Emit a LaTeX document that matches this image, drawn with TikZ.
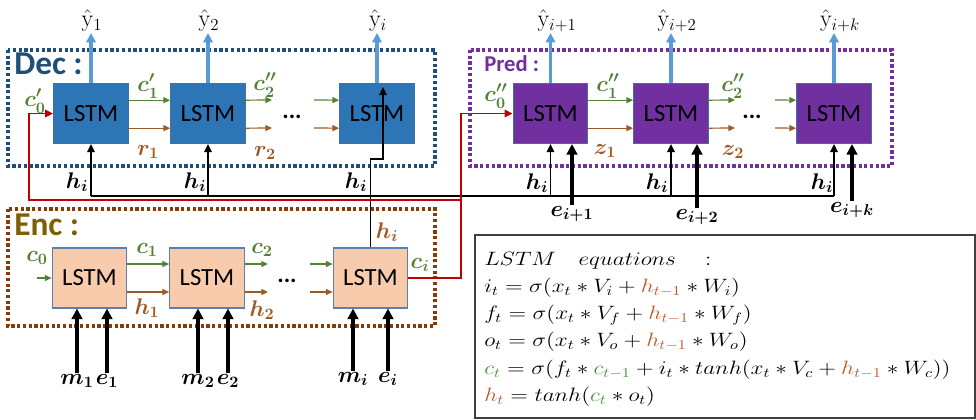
\RequirePackage{fix-cm}
\documentclass[tikz,border=0pt]{standalone}
\usepackage{amsmath}
\usepackage{amssymb}
\usepackage{fontspec}
\setsansfont{Carlito}
\usepackage{tikz}
\usetikzlibrary{positioning,calc,arrows.meta}

\definecolor{decfill}{HTML}{2E75B6}
\definecolor{decedge}{HTML}{41719C}
\definecolor{decline}{HTML}{1F4E79}
\definecolor{predfill}{HTML}{7030A0}
\definecolor{encfill}{HTML}{F8CBAD}
\definecolor{encedge}{HTML}{5B7FAF}
\definecolor{encline}{HTML}{843C0C}
\definecolor{enctext}{HTML}{7F6000}
\definecolor{lblgreen}{HTML}{548235}
\definecolor{lblbrown}{HTML}{9E5A26}
\definecolor{outblue}{HTML}{5B9BD5}
\definecolor{redline}{HTML}{C00000}
\definecolor{eqh}{HTML}{BE5A28}
\definecolor{eqc}{HTML}{46963C}

\begin{document}
\begin{tikzpicture}[x=0.75pt,y=-0.75pt,
    lstm/.style={draw,line width=0.8pt,minimum width=56pt,minimum height=45pt,inner sep=0pt,
        font=\sffamily\fontsize{18.5}{21}\selectfont},
    decbox/.style={lstm,fill=decfill,draw=decedge},
    predbox/.style={lstm,fill=predfill,draw=decedge},
    encbox/.style={lstm,fill=encfill,draw=encedge},
    dotbox/.style={line width=2.3pt,dash pattern=on 2.4pt off 1.9pt},
    grouplbl/.style={anchor=west,inner sep=0pt,font=\sffamily\bfseries\fontsize{25}{28}\selectfont},
    ylbl/.style={anchor=south,inner sep=1pt,font=\fontsize{18}{20}\selectfont},
    lbl/.style={inner sep=0.5pt,font=\fontsize{17}{19}\selectfont},
    glbl/.style={lbl,text=lblgreen},
    blbl/.style={lbl,text=lblbrown},
    dots/.style={inner sep=0pt,font=\sffamily\bfseries\fontsize{18}{20}\selectfont},
    outarrow/.style={draw=outblue,line width=2.3pt,-{Triangle[length=7pt,width=7pt]}},
    garrow/.style={draw=lblgreen,line width=0.9pt,-{Triangle[length=5pt,width=4.5pt]}},
    barrow/.style={draw=lblbrown,line width=0.9pt,-{Triangle[length=5pt,width=4.5pt]}},
    harrow/.style={draw=black,line width=1.3pt,-{Triangle[length=6pt,width=5.5pt]}},
    inarrow/.style={draw=black,line width=2.6pt,-{Triangle[length=8pt,width=8pt]}},
    redarrow/.style={draw=redline,line width=1.4pt,-{Triangle[length=6pt,width=5.5pt]}}]
\useasboundingbox (0,0) rectangle (976,419);

% Dec
\draw[dotbox,draw=decline] (8,50) rectangle (435,166);
\node[grouplbl,text=decline] (declbl) at (14,64) {Dec :};
\node[decbox] (d1) at (91,113.5) {LSTM};
\node[decbox] (d2) at (208,113.5) {LSTM};
\node[decbox] (d3) at (377,113.5) {LSTM};
\node[ylbl] (yd1) at (92,33) {$\hat{\mathrm{y}}_1$};
\node[ylbl] (yd2) at (209,33) {$\hat{\mathrm{y}}_2$};
\node[ylbl] (yd3) at (378,33) {$\hat{\mathrm{y}}_i$};
\draw[outarrow] (d1.north) -- (d1.north |- yd1.south);
\draw[outarrow] (d2.north) -- (d2.north |- yd2.south);
\draw[outarrow] (d3.north) -- (d3.north |- yd3.south);
\coordinate (dg2) at (272,100);
\coordinate (db2) at (272,128);
\coordinate (dg3) at (314,100);
\coordinate (db3) at (314,128);
\draw[garrow] ([yshift=10pt]d1.east) -- ([yshift=10pt]d2.west);
\draw[barrow] ([yshift=-11pt]d1.east) -- ([yshift=-11pt]d2.west);
\draw[garrow] ([yshift=10pt]d2.east) -- (dg2);
\draw[barrow] ([yshift=-11pt]d2.east) -- (db2);
\draw[garrow] (dg3) -- ([yshift=10pt]d3.west);
\draw[barrow] (db3) -- ([yshift=-11pt]d3.west);
\node[dots] (ddots) at (292,117) {...};
\node[glbl,inner sep=0pt] (c0d) at (35,101) {$\boldsymbol{c'_0}$};
\node[glbl] (c1d) at (148,86) {$\boldsymbol{c'_1}$};
\node[blbl] (r1d) at (148,152) {$\boldsymbol{r_1}$};
\node[glbl] (c2d) at (265,85) {$\boldsymbol{c''_2}$};
\node[blbl] (r2d) at (265,153) {$\boldsymbol{r_2}$};

% Pred
\draw[dotbox,draw=predfill] (470,50) rectangle (892,166);
\node[grouplbl,text=predfill,font=\sffamily\bfseries\fontsize{17}{20}\selectfont] (predlbl) at (484,64) {Pred :};
\node[predbox] (p1) at (550.5,113.5) {LSTM};
\node[predbox] (p2) at (671,113.5) {LSTM};
\node[predbox] (p3) at (834,113.5) {LSTM};
\node[ylbl] (yp1) at (557,33) {$\hat{\mathrm{y}}_{i+1}$};
\node[ylbl] (yp2) at (677,33) {$\hat{\mathrm{y}}_{i+2}$};
\node[ylbl] (yp3) at (840,33) {$\hat{\mathrm{y}}_{i+k}$};
\draw[outarrow] (p1.north) -- (p1.north |- yp1.south);
\draw[outarrow] (p2.north) -- (p2.north |- yp2.south);
\draw[outarrow] (p3.north) -- (p3.north |- yp3.south);
\coordinate (pg2) at (735,100);
\coordinate (pb2) at (735,128);
\coordinate (pg3) at (775,100);
\coordinate (pb3) at (775,128);
\draw[garrow] ([yshift=10pt]p1.east) -- ([yshift=10pt]p2.west);
\draw[barrow] ([yshift=-11pt]p1.east) -- ([yshift=-11pt]p2.west);
\draw[garrow] ([yshift=10pt]p2.east) -- (pg2);
\draw[barrow] ([yshift=-11pt]p2.east) -- (pb2);
\draw[garrow] (pg3) -- ([yshift=10pt]p3.west);
\draw[barrow] (pb3) -- ([yshift=-11pt]p3.west);
\node[dots] (pdots) at (752,117) {...};
\node[glbl] (c0p) at (496,96) {$\boldsymbol{c''_0}$};
\node[glbl] (c1p) at (608,86) {$\boldsymbol{c''_1}$};
\node[blbl] (z1p) at (605,151) {$\boldsymbol{z_1}$};
\node[glbl] (c2p) at (733,86) {$\boldsymbol{c''_2}$};
\node[blbl] (z2p) at (733,152) {$\boldsymbol{z_2}$};
% e inputs of Pred
\node[lbl] (ep1) at (572,214) {$\boldsymbol{e_{i+1}}$};
\node[lbl] (ep2) at (697,217) {$\boldsymbol{e_{i+2}}$};
\node[lbl] (ep3) at (852,210) {$\boldsymbol{e_{i+k}}$};
\draw[inarrow] (ep1.north) -- (ep1.north |- p1.south);
\draw[inarrow] (ep2.north) -- (ep2.north |- p2.south);
\draw[inarrow] (ep3.north) -- (ep3.north |- p3.south);

% Enc
\draw[dotbox,draw=encline] (8,209) rectangle (435,326);
\node[grouplbl,text=enctext] (enclbl) at (14,225) {Enc :};
\node[encbox] (n1) at (89.5,278) {LSTM};
\node[encbox] (n2) at (207,278) {LSTM};
\node[encbox] (n3) at (370.5,278) {LSTM};
\coordinate (ng0) at (37,278);
\coordinate (ng2) at (268,264);
\coordinate (nb2) at (268,292);
\coordinate (ng3) at (310,264);
\coordinate (nb3) at (310,292);
\draw[garrow] (ng0) -- (n1.west);
\draw[garrow] ([yshift=10.5pt]n1.east) -- ([yshift=10.5pt]n2.west);
\draw[barrow] ([yshift=-10.5pt]n1.east) -- ([yshift=-10.5pt]n2.west);
\draw[garrow] ([yshift=10.5pt]n2.east) -- (ng2);
\draw[barrow] ([yshift=-10.5pt]n2.east) -- (nb2);
\draw[garrow] (ng3) -- ([yshift=10.5pt]n3.west);
\draw[barrow] (nb3) -- ([yshift=-10.5pt]n3.west);
\node[dots] (ndots) at (287,281) {...};
\node[glbl] (c0n) at (37,258) {$\boldsymbol{c_0}$};
\node[glbl] (c1n) at (147,250) {$\boldsymbol{c_1}$};
\node[blbl] (h1n) at (147,308) {$\boldsymbol{h_1}$};
\node[glbl] (c2n) at (262,250) {$\boldsymbol{c_2}$};
\node[blbl] (h2n) at (262,310) {$\boldsymbol{h_2}$};
\node[blbl] (hin) at (387,232) {$\boldsymbol{h_i}$};
\node[glbl] (cin) at (420,265) {$\boldsymbol{c_i}$};
% m, e inputs of Enc
\node[lbl] (m1) at (77,381) {$\boldsymbol{m_1}$};
\node[lbl] (e1) at (107,381) {$\boldsymbol{e_1}$};
\node[lbl] (m2) at (198,381) {$\boldsymbol{m_2}$};
\node[lbl] (e2) at (228,381) {$\boldsymbol{e_2}$};
\node[lbl] (mi) at (353,379) {$\boldsymbol{m_i}$};
\node[lbl] (ei) at (388,379) {$\boldsymbol{e_i}$};
\draw[inarrow] (m1.north) -- (m1.north |- n1.south);
\draw[inarrow] (e1.north) -- (e1.north |- n1.south);
\draw[inarrow] (m2.north) -- (m2.north |- n2.south);
\draw[inarrow] (e2.north) -- (e2.north |- n2.south);
\draw[inarrow] (mi.north) -- (mi.north |- n3.south);
\draw[inarrow] (ei.north) -- (ei.north |- n3.south);

% h_i bus
\coordinate (busL) at (91,196);
\coordinate (busR) at (834,196);
\draw[line width=1.3pt] (busL) -- (busR);
\draw[harrow] (d1.south |- busL) -- (d1.south);
\draw[harrow] (d2.south |- busL) -- (d2.south);
\draw[harrow] (p1.south |- busL) -- (p1.south);
\draw[harrow] (p2.south |- busL) -- (p2.south);
\draw[harrow] (p3.south |- busL) -- (p3.south);
\coordinate (hj) at (383,159);
\coordinate (htip) at (383,87);
\draw[harrow] (n3.north) |- (hj) -- (htip);
\node[lbl] (hd1) at (77,182) {$\boldsymbol{h_i}$};
\node[lbl] (hd2) at (195,182) {$\boldsymbol{h_i}$};
\node[lbl] (hd3) at (356,182) {$\boldsymbol{h_i}$};
\node[lbl] (hp1) at (537,183) {$\boldsymbol{h_i}$};
\node[lbl] (hp2) at (657,183) {$\boldsymbol{h_i}$};
\node[lbl] (hp3) at (822,183) {$\boldsymbol{h_i}$};

% c_i to Dec and Pred
\coordinate (rx) at (461,200);
\draw[redarrow] (n3.east) -| (rx) |- (p1.west);
\draw[redarrow] (rx) -- (rx -| 29,0) |- (d1.west);

% equations
\draw[line width=0.8pt,draw=black!75] (475,235) rectangle (975,418);
\node[anchor=north west,inner sep=0pt,font=\fontsize{14.5}{20.4}\selectfont] (eqs) at (484,246) {%
\scalebox{1.2}[1]{\begin{tabular}{@{}l@{}}
$LSTM\ \ \ equations\ \ \ :$\\
$i_t=\sigma(x_t*V_i+\textcolor{eqh}{h_{t-1}}*W_i)$\\
$f_t=\sigma(x_t*V_f+\textcolor{eqh}{h_{t-1}}*W_f)$\\
$o_t=\sigma(x_t*V_o+\textcolor{eqh}{h_{t-1}}*W_o)$\\
$\textcolor{eqc}{c_t}=\sigma(f_t*\textcolor{eqc}{c_{t-1}}+i_t*tanh(x_t*V_c+\textcolor{eqh}{h_{t-1}}*W_c))$\\
$\textcolor{eqh}{h_t}=tanh(\textcolor{eqc}{c_t}*o_t)$
\end{tabular}}};
\end{tikzpicture}
\end{document}
